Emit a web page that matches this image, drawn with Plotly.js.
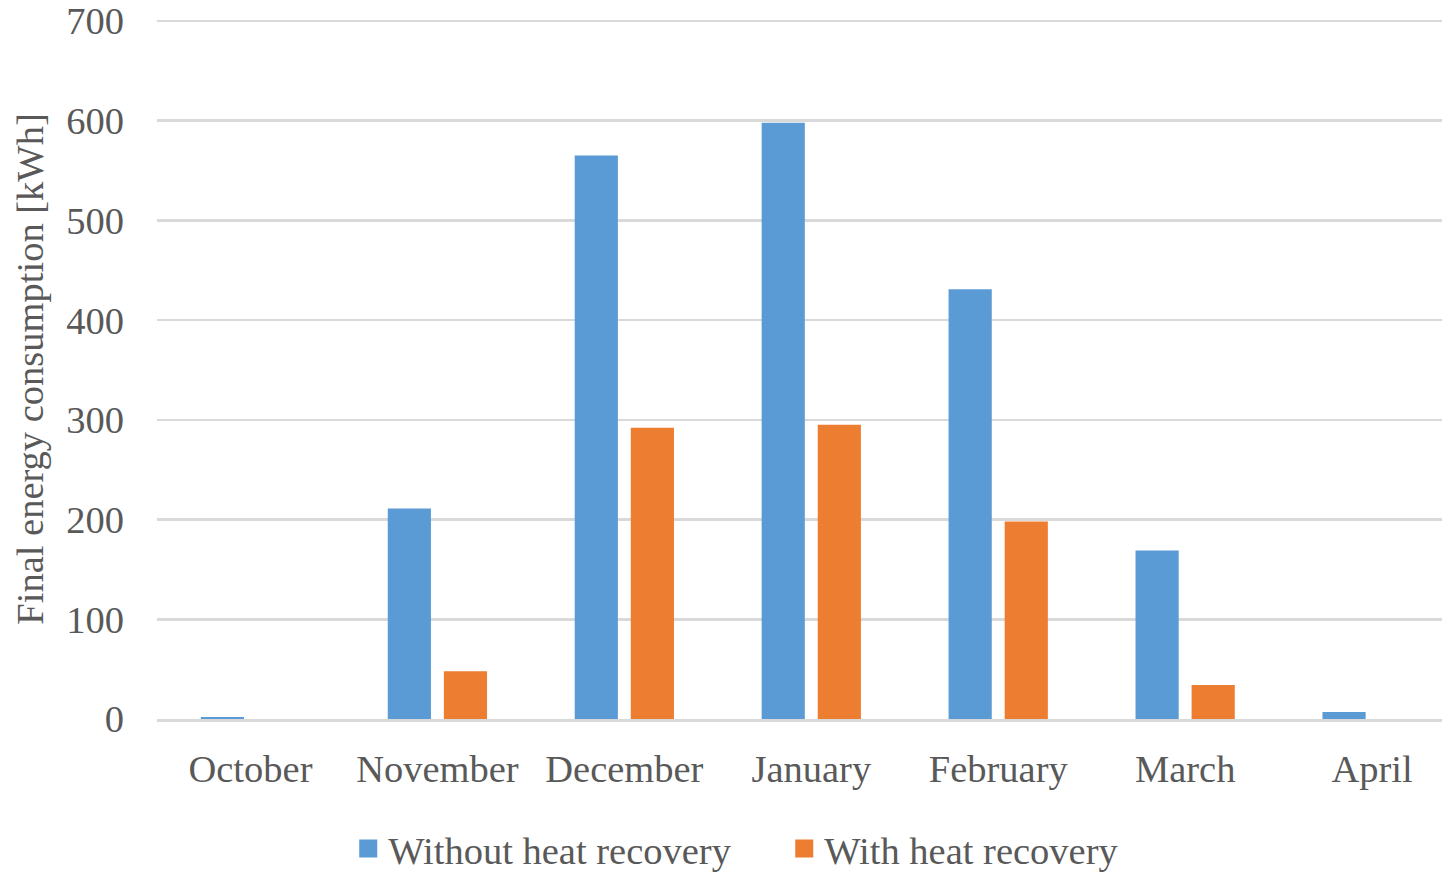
<!DOCTYPE html>
<html>
<head>
<meta charset="utf-8">
<script src="https://cdn.plot.ly/plotly-3.0.1.min.js"></script>
<style>html,body{margin:0;padding:0;background:#fff;}#chart{width:1442px;height:874px;}</style>
</head>
<body>
<div id="chart"></div>
<script>
const months = ["October", "November", "December", "January", "February", "March", "April"];
const withoutRecovery = [2, 211, 565, 598, 431, 169, 7];
const withRecovery = [0, 48, 292, 295, 198, 34, 0];
const yTicks = [0, 100, 200, 300, 400, 500, 600, 700];
const seriesNames = ["Without heat recovery", "With heat recovery"];
const seriesColors = ["#5B9BD5", "#ED7D31"];

const font = {family: "'Liberation Serif', 'Times New Roman', serif", size: 38.5, color: "#595959"};

const traces = [
  {type: "bar", name: seriesNames[0], x: months, y: withoutRecovery, marker: {color: seriesColors[0]}, showlegend: false},
  {type: "bar", name: seriesNames[1], x: months, y: withRecovery, marker: {color: seriesColors[1]}, showlegend: false},
  {type: "scatter", mode: "markers", name: seriesNames[0], x: [null], y: [null],
   marker: {symbol: "square", size: 16, color: seriesColors[0], line: {color: seriesColors[0], width: 2}}},
  {type: "scatter", mode: "markers", name: seriesNames[1], x: [null], y: [null],
   marker: {symbol: "square", size: 16, color: seriesColors[1], line: {color: seriesColors[1], width: 2}}}
];

const layout = {
  width: 1442, height: 874,
  margin: {l: 157, r: 0, t: 19, b: 155},
  paper_bgcolor: "#fff", plot_bgcolor: "#fff",
  font: font,
  barmode: "group",
  bargap: 0.40,
  bargroupgap: 0.23,
  showlegend: true,
  legend: {orientation: "h", xref: "container", yref: "container", x: 0.2415, xanchor: "left",
           y: 0.0286, yanchor: "middle", font: font, entrywidth: 391, itemclick: false},
  xaxis: {
    type: "category", range: [-0.5, 6.374], fixedrange: true,
    showgrid: false, zeroline: false,
    showline: true, linecolor: "#D9D9D9", linewidth: 3,
    ticks: "", ticklabelstandoff: 14, tickfont: font, automargin: false
  },
  yaxis: {
    range: [0, 702], tickvals: yTicks, ticktext: yTicks.map(String),
    showgrid: true, gridcolor: "#D9D9D9", gridwidth: 2.5,
    zeroline: false, showline: false, ticks: "",
    ticklabelstandoff: 32, tickfont: font, automargin: false,
    title: {text: "Final energy consumption [kWh]", font: font, standoff: 10}
  }
};

Plotly.newPlot("chart", traces, layout, {displayModeBar: false, staticPlot: true});
</script>
</body>
</html>
